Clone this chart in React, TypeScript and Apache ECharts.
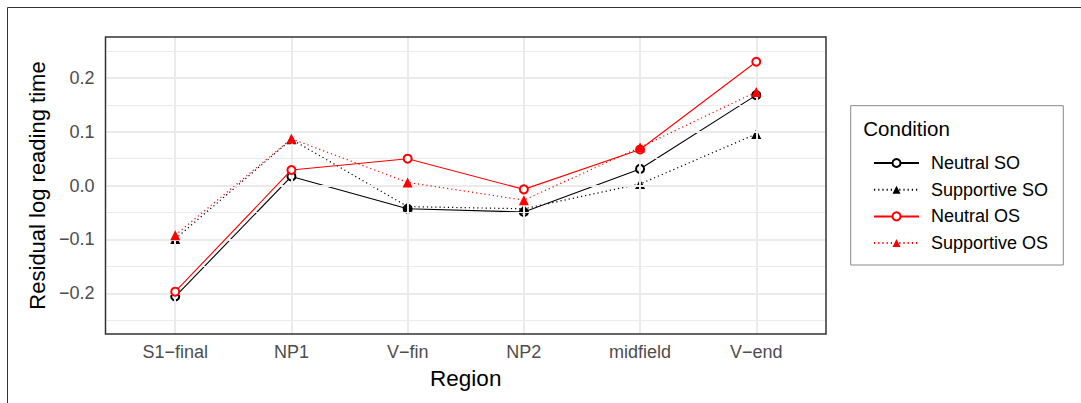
import React, { useEffect, useRef } from "react";
import * as echarts from "echarts";

const regions = ["S1\u2212final", "NP1", "V\u2212fin", "NP2", "midfield", "V\u2212end"];
const neutralSO = [-0.206, 0.017, -0.043, -0.049, 0.031, 0.168];
const supportiveSO = [-0.099, 0.086, -0.039, -0.043, 0.003, 0.096];
const neutralOS = [-0.197, 0.029, 0.05, -0.007, 0.067, 0.23];
const supportiveOS = [-0.092, 0.087, 0.006, -0.027, 0.071, 0.174];
const yTickValues = [-0.2, -0.1, 0, 0.1, 0.2];
const yTickLabels = ["\u22120.2", "\u22120.1", "0.0", "0.1", "0.2"];
const yMinorValues = [-0.25, -0.15, -0.05, 0.05, 0.15, 0.25];

const GRID = { left: 105.5, top: 37, right: 1081 - 826, bottom: 403 - 334 };

export default function App() {
  const ref = useRef<HTMLDivElement>(null);
  useEffect(() => {
    if (!ref.current) return;
    const chart = echarts.init(ref.current, null, { renderer: "svg" });
    const xIdx = regions.map((_, i) => i);
    const mk = (vals: number[]) => vals.map((v, i) => [i, v]);
    const font = "'Liberation Sans', Arial, Helvetica, sans-serif";
    const solid = { width: 1.1, type: "solid" as const };
    const dotted = { width: 1.2, type: [1.2, 3] as any };
    const series: any[] = [
      {
        name: "grid",
        type: "line",
        data: [],
        z: 1,
        silent: true,
        markLine: {
          silent: true,
          symbol: "none",
          animation: false,
          label: { show: false },
          emphasis: { disabled: true },
          data: [
            ...yMinorValues.map((v) => ({ yAxis: v, lineStyle: { color: "#EBEBEB", width: 1.2, type: "solid" } })),
            ...yTickValues.map((v) => ({ yAxis: v, lineStyle: { color: "#EBEBEB", width: 2, type: "solid" } })),
            ...xIdx.map((v) => ({ xAxis: v, lineStyle: { color: "#EBEBEB", width: 2, type: "solid" } })),
          ],
        },
      },
      {
        name: "Neutral SO",
        type: "line",
        data: mk(neutralSO),
        z: 3,
        symbol: "emptyCircle",
        symbolSize: 8,
        lineStyle: { color: "#000", ...solid },
        itemStyle: { color: "#000", borderColor: "#000", borderWidth: 1.5 },
      },
      {
        name: "Supportive SO",
        type: "line",
        data: mk(supportiveSO),
        z: 4,
        symbol: "triangle",
        symbolSize: 10,
        lineStyle: { color: "#000", ...dotted },
        itemStyle: { color: "#000" },
      },
      {
        name: "Neutral OS",
        type: "line",
        data: mk(neutralOS),
        z: 5,
        symbol: "emptyCircle",
        symbolSize: 8,
        lineStyle: { color: "#FF0000", ...solid },
        itemStyle: { color: "#FF0000", borderColor: "#FF0000", borderWidth: 1.5 },
      },
      {
        name: "Supportive OS",
        type: "line",
        data: mk(supportiveOS),
        z: 6,
        symbol: "triangle",
        symbolSize: 10,
        lineStyle: { color: "#FF0000", ...dotted },
        itemStyle: { color: "#FF0000" },
      },
    ];

    chart.setOption({
      animation: false,
      textStyle: { fontFamily: font },
      grid: { ...GRID, containLabel: false },
      xAxis: {
        type: "value",
        min: -0.6,
        max: 5.6,
        axisLine: { show: false },
        splitLine: { show: false },
        axisTick: { show: true, customValues: xIdx, length: 5, lineStyle: { color: "#333", width: 2 } },
        axisLabel: {
          customValues: xIdx,
          formatter: (v: number) => regions[Math.round(v)] ?? "",
          color: "#4D4D4D",
          fontSize: 18,
          margin: 9,
          fontFamily: font,
        },
        name: "Region",
        nameLocation: "middle",
        nameGap: 33,
        nameTextStyle: { color: "#000", fontSize: 22.5, fontFamily: font },
      },
      yAxis: {
        type: "value",
        min: -0.2756,
        max: 0.276,
        axisLine: { show: false },
        splitLine: { show: false },
        axisTick: { show: true, customValues: yTickValues, length: 5, lineStyle: { color: "#333", width: 2 } },
        axisLabel: {
          customValues: yTickValues,
          formatter: (v: number) => {
            const i = yTickValues.findIndex((t) => Math.abs(t - v) < 1e-6);
            return i >= 0 ? yTickLabels[i] : "";
          },
          color: "#4D4D4D",
          fontSize: 18,
          margin: 11,
          fontFamily: font,
        },
        name: "Residual log reading time",
        nameLocation: "middle",
        nameGap: 55,
        nameTextStyle: { color: "#000", fontSize: 22, fontFamily: font },
      },
      legend: {
        data: ["Neutral SO", "Supportive SO", "Neutral OS", "Supportive OS"],
        orient: "vertical",
        left: 868,
        top: 149,
        itemWidth: 45,
        itemHeight: 10,
        itemGap: 8.7,
        selectedMode: false,
        textStyle: { color: "#000", fontSize: 18, lineHeight: 17, fontFamily: font, padding: [0, 0, 0, 7] },
      },
      graphic: [
        {
          type: "rect",
          z: 100,
          silent: true,
          shape: { x: 7.5, y: 7.5, width: 1200, height: 600 },
          style: { fill: "none", stroke: "#333", lineWidth: 1 },
        },
        {
          type: "rect",
          z: 100,
          silent: true,
          shape: { x: GRID.left, y: GRID.top, width: 826 - GRID.left, height: 334 - GRID.top },
          style: { fill: "none", stroke: "#333", lineWidth: 1.5 },
        },
        {
          type: "rect",
          z: 100,
          silent: true,
          shape: { x: 850.7, y: 105.7, width: 212.6, height: 159.3 },
          style: { fill: "none", stroke: "#888", lineWidth: 1 },
        },
        {
          type: "text",
          z: 100,
          silent: true,
          x: 863.3,
          y: 128,
          style: { text: "Condition", fill: "#000", fontSize: 20.5, fontFamily: font, verticalAlign: "middle", align: "left" },
        },
      ],
      series,
    });
    return () => chart.dispose();
  }, []);
  return (
    <div
      ref={ref}
      style={{ position: "fixed", left: 0, top: 0, width: 1081, height: 403, background: "#fff" }}
    />
  );
}
